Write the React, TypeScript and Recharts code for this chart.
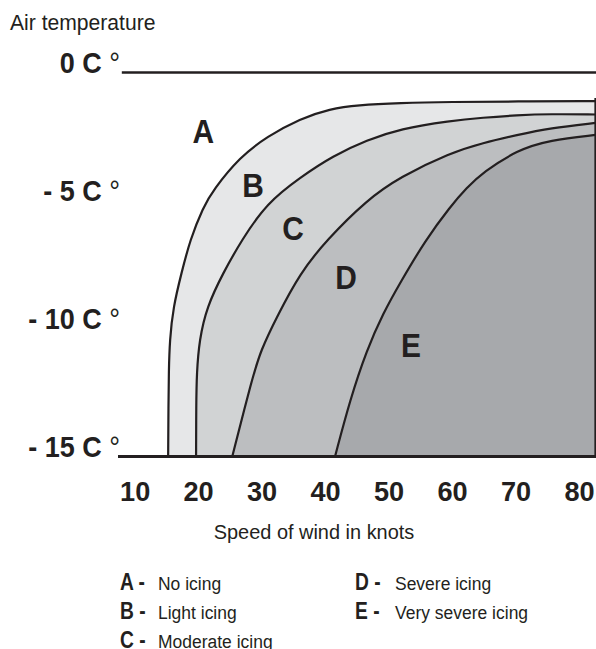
import type { ReactNode } from 'react'
import { Area, ComposedChart, ReferenceDot, ReferenceLine, XAxis, YAxis } from 'recharts'

type Pt = [number, number]

// boundary curves, [wind speed in knots, air temperature in C]
const curveA: Pt[] = [
  [15.2, -15], [15.25, -13], [15.3, -11.7], [15.45, -10.45], [16.0, -9.16], [17.3, -7.83],
  [18.65, -6.54], [20.7, -5.27], [22.3, -4.59], [26.5, -3.3], [30.8, -2.5], [36, -1.8],
  [40.7, -1.42], [45, -1.27], [51.7, -1.19], [59.6, -1.15], [70, -1.13], [82.5, -1.12],
]
const curveB: Pt[] = [
  [19.6, -15], [19.62, -13], [19.7, -11.74], [20.11, -10.45], [21.28, -9.16], [23.85, -7.83],
  [26.8, -6.54], [30.73, -5.1], [35.98, -4.1], [41.18, -3.25], [46.54, -2.64], [51.73, -2.2],
  [59.6, -1.89], [64.8, -1.76], [70.1, -1.67], [75.36, -1.62], [82.5, -1.64],
]
const curveC: Pt[] = [
  [25.3, -15], [28.37, -12.01], [29.8, -10.84], [32.31, -9.55], [35.98, -7.83], [40.18, -6.54],
  [46.48, -4.98], [51.73, -4.08], [59.6, -3.14], [64.8, -2.75], [70.16, -2.44], [75.36, -2.17],
  [82.5, -1.97],
]
const curveD: Pt[] = [
  [41.49, -15], [43.85, -12.79], [46.48, -10.84], [49.1, -9.39], [51.73, -8.22], [55.75, -6.54],
  [59.6, -5.25], [62.24, -4.5], [64.8, -3.9], [70.16, -3.03], [75.36, -2.64], [82.5, -2.44],
]

const xTicks = [10, 20, 30, 40, 50, 60, 70, 80]
const yTicks = [0, -5, -10, -15]
const yTickLabels = ['0 C', '- 5 C', '- 10 C', '- 15 C']

const zoneLabels = [
  { id: 'A', x: 20.72, y: -2.31 },
  { id: 'B', x: 28.57, y: -4.41 },
  { id: 'C', x: 34.87, y: -6.09 },
  { id: 'D', x: 43.22, y: -8.01 },
  { id: 'E', x: 53.46, y: -10.64 },
]

const legendLeft = [
  { id: 'A', text: 'No icing' },
  { id: 'B', text: 'Light icing' },
  { id: 'C', text: 'Moderate icing' },
]
const legendRight = [
  { id: 'D', text: 'Severe icing' },
  { id: 'E', text: 'Very severe icing' },
]

const INK = '#231f20'
const SANS = "'Liberation Sans', Arial, Helvetica, sans-serif"

const series = [
  { key: 'a', pts: curveA, fill: '#e6e7e8' },
  { key: 'b', pts: curveB, fill: '#d1d3d4' },
  { key: 'c', pts: curveC, fill: '#bcbec0' },
  { key: 'd', pts: curveD, fill: '#a7a9ac' },
]

const xs = Array.from(new Set(series.flatMap((s) => s.pts.map((p) => p[0])))).sort((a, b) => a - b)
const rows = xs.map((x) => {
  const row: Record<string, number | null> = { x }
  series.forEach((s) => {
    const hit = s.pts.find((p) => p[0] === x)
    row[s.key] = hit ? hit[1] : null
  })
  return row
})

// condensed-looking text: no narrow face installed, so squeeze horizontally
type TxtProps = {
  x: number
  y: number
  size: number
  bold?: boolean
  sx?: number
  anchor?: 'start' | 'middle' | 'end'
  central?: boolean
  children: ReactNode
}

function Txt({ x, y, size, bold, sx = 1, anchor = 'start', central, children }: TxtProps) {
  return (
    <text
      transform={`translate(${x} ${y}) scale(${sx} 1)`}
      textAnchor={anchor}
      dominantBaseline={central ? 'central' : undefined}
      fontFamily={SANS}
      fontSize={size}
      fontWeight={bold ? 'bold' : 'normal'}
      fill={INK}
    >
      {children}
    </text>
  )
}

function XTick({ x, y, payload }: any) {
  return (
    <Txt x={x} y={y + 44} size={28} bold sx={0.97} anchor="middle">
      {payload.value}
    </Txt>
  )
}

function YTick({ x, y, payload }: any) {
  const label = yTickLabels[yTicks.indexOf(payload.value)]
  return (
    <Txt x={x + 2} y={y + 0.5} size={30} sx={0.9} anchor="end">
      <tspan fontWeight="bold">{label}</tspan>
      <tspan fontWeight="normal"> °</tspan>
    </Txt>
  )
}

function LegendRow({ id, text, lx, tx, y }: { id: string; text: string; lx: number; tx: number; y: number }) {
  return (
    <g>
      <Txt x={lx} y={y} size={24} bold sx={0.8}>
        {id} -
      </Txt>
      <Txt x={tx} y={y} size={19} sx={0.92}>
        {text}
      </Txt>
    </g>
  )
}

export default function App() {
  return (
    <div style={{ position: 'absolute', left: 0, top: 0, width: 596, height: 649, background: '#fff' }}>
      <ComposedChart width={596} height={649} data={rows} margin={{ top: 72.5, right: 0, bottom: 132.5, left: 0 }}>
        <XAxis
          dataKey="x"
          type="number"
          domain={[7.3, 82.6]}
          ticks={xTicks}
          axisLine={false}
          tickLine={false}
          tickSize={0}
          tickMargin={0}
          height={60}
          tick={<XTick />}
        />
        <YAxis
          type="number"
          domain={[-15, 0]}
          ticks={yTicks}
          axisLine={false}
          tickLine={false}
          tickSize={0}
          tickMargin={0}
          width={118}
          tick={<YTick />}
        />
        {series.map((s) => (
          <Area
            key={s.key}
            dataKey={s.key}
            type="basis"
            baseValue={-15}
            connectNulls
            fill={s.fill}
            fillOpacity={1}
            stroke={INK}
            strokeWidth={2.2}
            dot={false}
            activeDot={false}
            isAnimationActive={false}
          />
        ))}
        <ReferenceLine y={-15} stroke={INK} strokeWidth={3} />
        <ReferenceLine segment={[{ x: 7.9, y: 0 }, { x: 82.6, y: 0 }]} stroke={INK} strokeWidth={2.5} />
        <ReferenceLine segment={[{ x: 82.5, y: -15 }, { x: 82.5, y: -1.0 }]} stroke={INK} strokeWidth={2} />
        {zoneLabels.map((z) => (
          <ReferenceDot
            key={z.id}
            x={z.x}
            y={z.y}
            r={0}
            shape={(p: any) => (
              <Txt x={p.cx} y={p.cy} size={34} bold sx={0.88} anchor="middle" central>
                {z.id}
              </Txt>
            )}
          />
        ))}
      </ComposedChart>
      <svg width={596} height={649} style={{ position: 'absolute', left: 0, top: 0, pointerEvents: 'none' }}>
        <Txt x={10} y={30} size={22} sx={0.96}>
          Air temperature
        </Txt>
        <Txt x={314} y={539} size={21} sx={0.95} anchor="middle">
          Speed of wind in knots
        </Txt>
        {legendLeft.map((l, i) => (
          <LegendRow key={l.id} id={l.id} text={l.text} lx={120} tx={158} y={590 + i * 29} />
        ))}
        {legendRight.map((l, i) => (
          <LegendRow key={l.id} id={l.id} text={l.text} lx={355} tx={395} y={590 + i * 29} />
        ))}
      </svg>
    </div>
  )
}
